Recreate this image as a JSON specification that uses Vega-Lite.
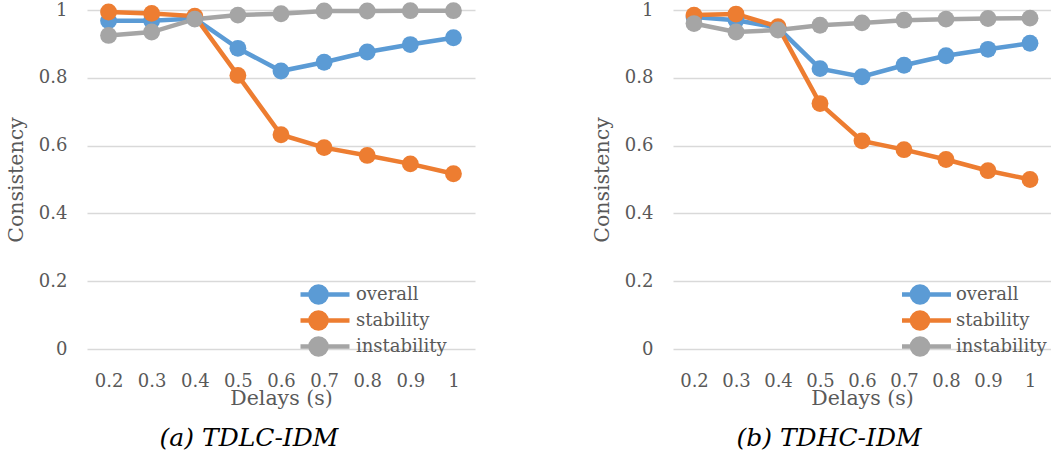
{
  "$schema": "https://vega.github.io/schema/vega-lite/v6.json",
  "padding": {"left": 6, "top": 1, "right": 0, "bottom": 0},
  "background": "white",
  "data": {"values": [
    {"panel": "a", "delay": "0.2", "series": "overall", "value": 0.968},
    {"panel": "a", "delay": "0.3", "series": "overall", "value": 0.968},
    {"panel": "a", "delay": "0.4", "series": "overall", "value": 0.975},
    {"panel": "a", "delay": "0.5", "series": "overall", "value": 0.887},
    {"panel": "a", "delay": "0.6", "series": "overall", "value": 0.820},
    {"panel": "a", "delay": "0.7", "series": "overall", "value": 0.846},
    {"panel": "a", "delay": "0.8", "series": "overall", "value": 0.876},
    {"panel": "a", "delay": "0.9", "series": "overall", "value": 0.898},
    {"panel": "a", "delay": "1", "series": "overall", "value": 0.918},
    {"panel": "a", "delay": "0.2", "series": "stability", "value": 0.994},
    {"panel": "a", "delay": "0.3", "series": "stability", "value": 0.990},
    {"panel": "a", "delay": "0.4", "series": "stability", "value": 0.982},
    {"panel": "a", "delay": "0.5", "series": "stability", "value": 0.807},
    {"panel": "a", "delay": "0.6", "series": "stability", "value": 0.632},
    {"panel": "a", "delay": "0.7", "series": "stability", "value": 0.594},
    {"panel": "a", "delay": "0.8", "series": "stability", "value": 0.571},
    {"panel": "a", "delay": "0.9", "series": "stability", "value": 0.546},
    {"panel": "a", "delay": "1", "series": "stability", "value": 0.517},
    {"panel": "a", "delay": "0.2", "series": "instability", "value": 0.925},
    {"panel": "a", "delay": "0.3", "series": "instability", "value": 0.935},
    {"panel": "a", "delay": "0.4", "series": "instability", "value": 0.973},
    {"panel": "a", "delay": "0.5", "series": "instability", "value": 0.985},
    {"panel": "a", "delay": "0.6", "series": "instability", "value": 0.989},
    {"panel": "a", "delay": "0.7", "series": "instability", "value": 0.997},
    {"panel": "a", "delay": "0.8", "series": "instability", "value": 0.997},
    {"panel": "a", "delay": "0.9", "series": "instability", "value": 0.998},
    {"panel": "a", "delay": "1", "series": "instability", "value": 0.998},
    {"panel": "b", "delay": "0.2", "series": "overall", "value": 0.979},
    {"panel": "b", "delay": "0.3", "series": "overall", "value": 0.970},
    {"panel": "b", "delay": "0.4", "series": "overall", "value": 0.948},
    {"panel": "b", "delay": "0.5", "series": "overall", "value": 0.827},
    {"panel": "b", "delay": "0.6", "series": "overall", "value": 0.803},
    {"panel": "b", "delay": "0.7", "series": "overall", "value": 0.837},
    {"panel": "b", "delay": "0.8", "series": "overall", "value": 0.865},
    {"panel": "b", "delay": "0.9", "series": "overall", "value": 0.884},
    {"panel": "b", "delay": "1", "series": "overall", "value": 0.902},
    {"panel": "b", "delay": "0.2", "series": "stability", "value": 0.985},
    {"panel": "b", "delay": "0.3", "series": "stability", "value": 0.988},
    {"panel": "b", "delay": "0.4", "series": "stability", "value": 0.951},
    {"panel": "b", "delay": "0.5", "series": "stability", "value": 0.724},
    {"panel": "b", "delay": "0.6", "series": "stability", "value": 0.614},
    {"panel": "b", "delay": "0.7", "series": "stability", "value": 0.588},
    {"panel": "b", "delay": "0.8", "series": "stability", "value": 0.559},
    {"panel": "b", "delay": "0.9", "series": "stability", "value": 0.526},
    {"panel": "b", "delay": "1", "series": "stability", "value": 0.500},
    {"panel": "b", "delay": "0.2", "series": "instability", "value": 0.960},
    {"panel": "b", "delay": "0.3", "series": "instability", "value": 0.935},
    {"panel": "b", "delay": "0.4", "series": "instability", "value": 0.941},
    {"panel": "b", "delay": "0.5", "series": "instability", "value": 0.955},
    {"panel": "b", "delay": "0.6", "series": "instability", "value": 0.962},
    {"panel": "b", "delay": "0.7", "series": "instability", "value": 0.970},
    {"panel": "b", "delay": "0.8", "series": "instability", "value": 0.973},
    {"panel": "b", "delay": "0.9", "series": "instability", "value": 0.975},
    {"panel": "b", "delay": "1", "series": "instability", "value": 0.976}
  ]},
  "spacing": 117,
  "resolve": {"scale": {"color": "independent"}, "legend": {"color": "independent"}},
  "hconcat": [
    {
      "width": 388,
      "height": 339,
      "title": {"text": "(a) TDLC-IDM", "dx": -32},
      "transform": [{"filter": "datum.panel === 'a'"}],
      "encoding": {
        "x": {"field": "delay", "type": "ordinal", "sort": ["0.2","0.3","0.4","0.5","0.6","0.7","0.8","0.9","1"], "scale": {"type": "point", "padding": 0.5}, "axis": {"title": "Delays (s)", "labelAngle": 0}},
        "y": {"field": "value", "type": "quantitative", "scale": {"domain": [0, 1]}, "axis": {"title": "Consistency", "values": [0, 0.2, 0.4, 0.6, 0.8, 1], "format": "~g"}},
        "color": {"field": "series", "type": "nominal", "scale": {"domain": ["overall", "stability", "instability"], "range": ["#5B9BD5", "#ED7D31", "#A5A5A5"]},
          "legend": {"title": null, "orient": "none", "legendX": 213.5, "legendY": 274, "symbolType": "M-2,0H2M-0.52,0A0.52,0.52 0 1,1 0.52,0A0.52,0.52 0 1,1 -0.52,0M-0.32,0A0.32,0.32 0 1,1 0.32,0A0.32,0.32 0 1,1 -0.32,0M-0.13,0A0.13,0.13 0 1,1 0.13,0A0.13,0.13 0 1,1 -0.13,0", "symbolSize": 961, "symbolStrokeWidth": 4.5, "symbolOpacity": 1, "labelOffset": 19.5, "rowPadding": 5, "clipHeight": 21, "padding": 0}}
      },
      "layer": [
        {"mark": {"type": "line", "strokeWidth": 4.5}},
        {"mark": {"type": "point", "filled": true, "size": 284, "opacity": 1}}
      ]
    },
    {
      "width": 378,
      "height": 339,
      "title": {"text": "(b) TDHC-IDM", "dx": -33},
      "transform": [{"filter": "datum.panel === 'b'"}],
      "encoding": {
        "x": {"field": "delay", "type": "ordinal", "sort": ["0.2","0.3","0.4","0.5","0.6","0.7","0.8","0.9","1"], "scale": {"type": "point", "padding": 0.5}, "axis": {"title": "Delays (s)", "labelAngle": 0}},
        "y": {"field": "value", "type": "quantitative", "scale": {"domain": [0, 1]}, "axis": {"title": "Consistency", "values": [0, 0.2, 0.4, 0.6, 0.8, 1], "format": "~g"}},
        "color": {"field": "series", "type": "nominal", "scale": {"domain": ["overall", "stability", "instability"], "range": ["#5B9BD5", "#ED7D31", "#A5A5A5"]},
          "legend": {"title": null, "orient": "none", "legendX": 229, "legendY": 274, "symbolType": "M-2,0H2M-0.52,0A0.52,0.52 0 1,1 0.52,0A0.52,0.52 0 1,1 -0.52,0M-0.32,0A0.32,0.32 0 1,1 0.32,0A0.32,0.32 0 1,1 -0.32,0M-0.13,0A0.13,0.13 0 1,1 0.13,0A0.13,0.13 0 1,1 -0.13,0", "symbolSize": 961, "symbolStrokeWidth": 4.5, "symbolOpacity": 1, "labelOffset": 18, "rowPadding": 5, "clipHeight": 21, "padding": 0}}
      },
      "layer": [
        {"mark": {"type": "line", "strokeWidth": 4.5}},
        {"mark": {"type": "point", "filled": true, "size": 284, "opacity": 1}}
      ]
    }
  ],
  "config": {
    "view": {"stroke": null},
    "font": "DejaVu Serif",
    "axis": {"domain": false, "ticks": false, "labelFont": "DejaVu Serif", "labelFontSize": 18, "labelColor": "#595959", "titleFont": "DejaVu Serif", "titleFontSize": 20.5, "titleColor": "#595959", "titleFontWeight": "normal", "gridColor": "#D9D9D9", "gridWidth": 1.3},
    "axisX": {"grid": false, "labelPadding": 23, "titlePadding": -2},
    "axisY": {"labelPadding": 20, "titlePadding": 12},
    "legend": {"labelFont": "DejaVu Serif", "labelFontSize": 18, "labelColor": "#595959"},
    "title": {"orient": "bottom", "anchor": "middle", "font": "DejaVu Serif", "fontSize": 25, "fontWeight": "normal", "fontStyle": "italic", "color": "#000000", "offset": 17}
  }
}
